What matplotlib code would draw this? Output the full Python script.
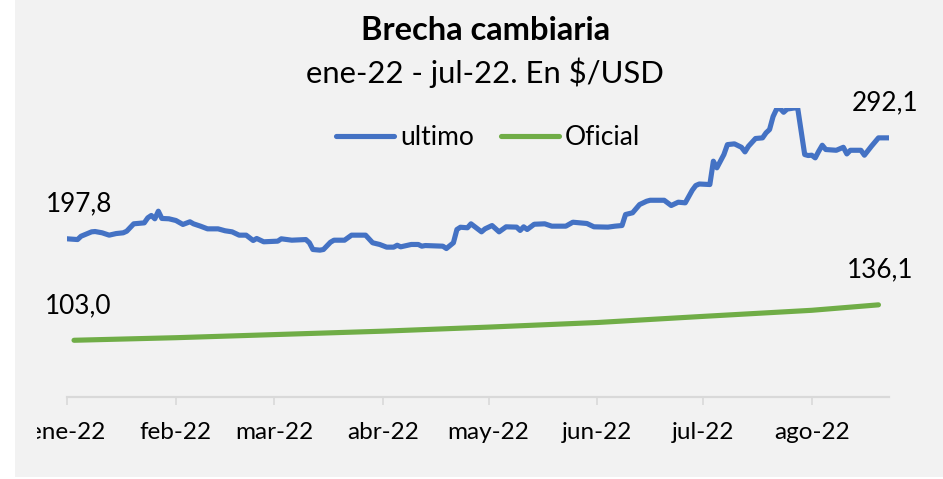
import matplotlib
matplotlib.use("Agg")
import matplotlib.pyplot as plt
import numpy as np
from matplotlib.patches import Rectangle
from matplotlib.transforms import Bbox, TransformedBbox

plt.rcParams["font.family"] = ["Lato", "DejaVu Sans"]

# serie "ultimo"
ultimo_fechas = [
    "2022-01-03", "2022-01-06", "2022-01-07", "2022-01-10", "2022-01-11", "2022-01-13",
    "2022-01-15", "2022-01-17", "2022-01-19", "2022-01-20", "2022-01-22", "2022-01-25",
    "2022-01-26", "2022-01-27", "2022-01-28", "2022-01-29", "2022-01-30", "2022-02-01",
    "2022-02-03", "2022-02-05", "2022-02-07", "2022-02-08", "2022-02-10", "2022-02-12",
    "2022-02-15", "2022-02-17", "2022-02-19", "2022-02-21", "2022-02-23", "2022-02-25",
    "2022-02-26", "2022-02-28", "2022-03-04", "2022-03-05", "2022-03-08", "2022-03-12",
    "2022-03-13", "2022-03-14", "2022-03-16", "2022-03-17", "2022-03-19", "2022-03-20",
    "2022-03-23", "2022-03-25", "2022-03-29", "2022-03-31", "2022-04-02", "2022-04-04",
    "2022-04-06", "2022-04-07", "2022-04-08", "2022-04-11", "2022-04-13", "2022-04-14",
    "2022-04-15", "2022-04-20", "2022-04-21", "2022-04-23", "2022-04-24", "2022-04-25",
    "2022-04-27", "2022-04-28", "2022-05-01", "2022-05-02", "2022-05-04", "2022-05-06",
    "2022-05-08", "2022-05-11", "2022-05-12", "2022-05-13", "2022-05-14", "2022-05-16",
    "2022-05-19", "2022-05-21", "2022-05-25", "2022-05-27", "2022-05-31", "2022-06-02",
    "2022-06-06", "2022-06-08", "2022-06-10", "2022-06-11", "2022-06-13", "2022-06-15",
    "2022-06-17", "2022-06-18", "2022-06-22", "2022-06-24", "2022-06-26", "2022-06-28",
    "2022-06-30", "2022-07-01", "2022-07-02", "2022-07-05", "2022-07-06", "2022-07-07",
    "2022-07-09", "2022-07-10", "2022-07-12", "2022-07-14", "2022-07-15", "2022-07-16",
    "2022-07-18", "2022-07-20", "2022-07-21", "2022-07-22", "2022-07-23", "2022-07-24",
    "2022-07-25", "2022-07-26", "2022-07-27", "2022-07-29", "2022-07-30", "2022-08-01",
    "2022-08-02", "2022-08-03", "2022-08-04", "2022-08-05", "2022-08-06", "2022-08-07",
    "2022-08-10", "2022-08-12", "2022-08-13", "2022-08-14", "2022-08-17", "2022-08-18",
    "2022-08-20", "2022-08-22", "2022-08-25",
]
ultimo_valores = [
    197.8, 197.1, 200.2, 204.3, 204.6, 203.4,
    201.2, 202.7, 203.4, 204.9, 211.8, 212.7,
    217.4, 219.6, 216.5, 223.6, 216.8, 216.5,
    214.9, 211.2, 213.7, 211.8, 209.6, 207.1,
    207.1, 205.3, 204.3, 201.2, 201.2, 196.2,
    198.1, 195.0, 195.6, 197.8, 196.5, 197.1,
    194.1, 187.8, 187.2, 187.8, 194.6, 196.5,
    196.5, 201.2, 201.2, 194.1, 192.5, 190.0,
    190.0, 191.8, 190.3, 192.5, 192.5, 190.9,
    191.5, 190.9, 188.7, 194.1, 206.5, 208.6,
    208.1, 211.8, 204.3, 207.1, 210.2, 204.3,
    209.0, 208.7, 205.6, 209.0, 206.5, 211.4,
    211.8, 209.6, 209.6, 213.3, 212.1, 209.0,
    208.7, 209.6, 210.2, 220.5, 222.1, 229.8,
    232.9, 233.8, 233.8, 228.9, 232.0, 231.4,
    243.2, 247.6, 249.0, 248.5, 270.3, 264.1,
    276.5, 285.8, 286.5, 283.3, 279.0, 284.3,
    291.5, 292.1, 296.8, 299.9, 312.0, 319.0,
    319.5, 316.0, 319.0, 320.0, 320.0, 276.5,
    275.6, 275.9, 273.4, 279.6, 285.2, 281.2,
    280.5, 283.3, 277.1, 280.5, 280.5, 275.9,
    284.3, 292.1, 292.1,
]

# serie "Oficial"
oficial_fechas = ["2022-01-05", "2022-02-03", "2022-03-03", "2022-04-03", "2022-05-03",
                  "2022-06-03", "2022-07-03", "2022-08-03", "2022-08-22"]
oficial_valores = [103.0, 105.4, 108.3, 111.5, 115.3, 119.6, 125.3, 131.0, 136.1]

# etiquetas del eje x
ticks_fechas = ["2022-01-03", "2022-02-03", "2022-03-03", "2022-04-03", "2022-05-03",
                "2022-06-03", "2022-07-03", "2022-08-03"]
ticks_labels = ["ene-22", "feb-22", "mar-22", "abr-22", "may-22", "jun-22", "jul-22", "ago-22"]

x_ult = np.array(ultimo_fechas, dtype="datetime64[D]")
x_ofi = np.array(oficial_fechas, dtype="datetime64[D]")
x_ticks = np.array(ticks_fechas, dtype="datetime64[D]")

BLUE = "#4472C4"
GREEN = "#70AD47"

fig = plt.figure(figsize=(9.43, 4.79), dpi=100, facecolor="white")
fig.patches.append(Rectangle((15 / 943, 2 / 479), 1, 1, transform=fig.transFigure,
                             facecolor="#f2f2f2", edgecolor="none", zorder=-10))
ax = fig.add_axes([67 / 943, 1 - 397 / 479, (889 - 67) / 943, (397 - 108) / 479])
ax.set_facecolor("none")

ax.plot(x_ult, ultimo_valores, color=BLUE, lw=3.7, label="ultimo",
        solid_joinstyle="round", solid_capstyle="round")
ax.plot(x_ofi, oficial_valores, color=GREEN, lw=3.7, label="Oficial",
        solid_joinstyle="round", solid_capstyle="round")

ax.set_xlim(np.datetime64("2022-01-03"), np.datetime64("2022-08-25"))
ax.set_ylim(50, 320)

for s in ["top", "right", "left"]:
    ax.spines[s].set_visible(False)
ax.spines["bottom"].set_color("#d9d9d9")
ax.spines["bottom"].set_linewidth(1.6)
ax.set_yticks([])
ax.set_xticks(x_ticks)
ax.set_xticklabels(ticks_labels)
ax.tick_params(axis="x", length=6, width=1.2, color="#d9d9d9", pad=12,
               labelsize=17.5, labelcolor="black")

# primera etiqueta recortada como en el original
lbl0 = ax.get_xticklabels()[0]
lbl0.set_clip_on(True)
lbl0.set_clip_box(TransformedBbox(Bbox([[37 / 943, 0], [1, 1]]), fig.transFigure))

# etiquetas de datos
def etiqueta(x, y, txt, dx):
    ax.annotate(txt, (x, y), xytext=(dx, 25), textcoords="offset points",
                ha="center", va="center", fontsize=18.8, annotation_clip=False)

etiqueta(x_ult[0], ultimo_valores[0], "197,8", 9)
etiqueta(x_ult[-1], ultimo_valores[-1], "292,1", -3)
etiqueta(x_ofi[0], oficial_valores[0], "103,0", 3)
etiqueta(x_ofi[-1], oficial_valores[-1], "136,1", 1)

fig.text(486 / 943, 1 - 31 / 479, "Brecha cambiaria", ha="center", va="center",
         fontsize=23.5, fontweight="bold")
fig.text(485 / 943, 1 - 73 / 479, "ene-22 - jul-22. En $/USD", ha="center", va="center",
         fontsize=22.3)

ax.legend(loc="center", bbox_to_anchor=(488 / 943, 1 - 138 / 479),
          bbox_transform=fig.transFigure, ncol=2, frameon=False, fontsize=19,
          handlelength=2.2, handletextpad=0.25, columnspacing=1.0)

fig.savefig("out.png", dpi=100, facecolor="white")
